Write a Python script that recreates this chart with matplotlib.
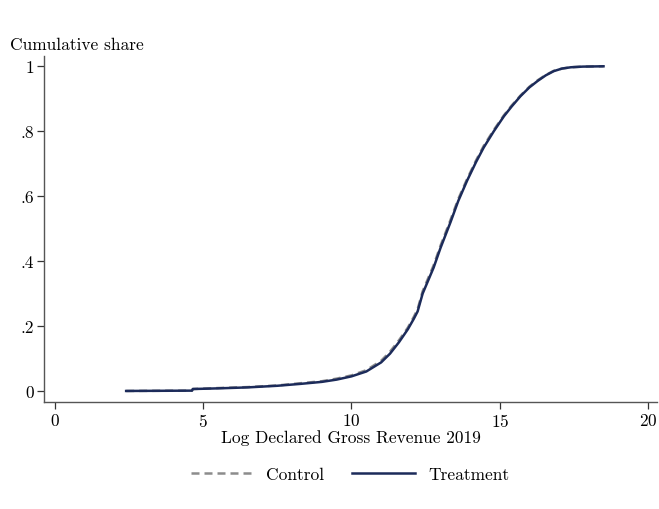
import matplotlib
matplotlib.use("Agg")
import matplotlib.pyplot as plt

plt.rcParams["font.family"] = ["cmr10", "DejaVu Serif"]
plt.rcParams["axes.formatter.use_mathtext"] = True
plt.rcParams["axes.unicode_minus"] = False

# Empirical CDF of log declared gross revenue, by group
treat_x = [2.4, 4.62, 4.65, 5.5, 6.5, 7.5, 8.3, 9.0, 9.5, 10.0, 10.5, 11.0, 11.3,
           11.6, 11.9, 12.1, 12.23, 12.4, 12.77, 13.0, 13.34, 13.6, 13.9, 14.2,
           14.46, 14.8, 15.14, 15.4, 15.7, 16.0, 16.28, 16.55, 16.82, 17.1, 17.4,
           17.8, 18.5]
treat_y = [0.0, 0.001, 0.006, 0.008, 0.011, 0.016, 0.022, 0.028, 0.035, 0.045,
           0.060, 0.088, 0.115, 0.150, 0.190, 0.222, 0.245, 0.300, 0.380, 0.440,
           0.520, 0.585, 0.648, 0.705, 0.750, 0.800, 0.846, 0.876, 0.908, 0.935,
           0.955, 0.972, 0.985, 0.993, 0.997, 0.999, 1.0]

ctrl_x = [2.4, 4.62, 4.65, 5.5, 6.5, 7.5, 8.3, 9.0, 9.5, 10.0, 10.5, 11.0, 11.3,
          11.6, 11.9, 12.1, 12.23, 12.4, 12.77, 13.0, 13.34, 13.6, 13.9, 14.2,
          14.46, 14.8, 15.14, 15.4, 15.7, 16.0, 16.28, 16.55, 16.82, 17.1, 17.4,
          17.8, 18.5]
ctrl_y = [0.0, 0.001, 0.006, 0.009, 0.012, 0.017, 0.024, 0.030, 0.038, 0.048,
          0.064, 0.093, 0.121, 0.156, 0.195, 0.228, 0.252, 0.307, 0.387, 0.447,
          0.527, 0.591, 0.653, 0.710, 0.755, 0.804, 0.849, 0.879, 0.910, 0.937,
          0.957, 0.973, 0.986, 0.993, 0.997, 0.999, 1.0]

x_ticks = [0, 5, 10, 15, 20]
y_ticks = [0, 0.2, 0.4, 0.6, 0.8, 1.0]
y_tick_labels = ["0", ".2", ".4", ".6", ".8", "1"]

FS = 12.5

fig = plt.figure(figsize=(6.59, 5.10), dpi=100)
ax = fig.add_axes([0.0668, 0.2098, 0.930, 0.678])

ax.plot(ctrl_x, ctrl_y, color="#8c8c8c", lw=1.8, ls=(0, (3.2, 2.0)), label="Control", zorder=2)
ax.plot(treat_x, treat_y, color="#1c2b5a", lw=1.8, label="Treatment", zorder=3)

ax.set_xlim(-0.37, 20.3)
ax.set_ylim(-0.034, 1.031)
ax.set_xticks(x_ticks)
ax.set_yticks(y_ticks)
ax.set_yticklabels(y_tick_labels)

for side in ("top", "right"):
    ax.spines[side].set_visible(False)
for side in ("left", "bottom"):
    ax.spines[side].set_color("#555555")
    ax.spines[side].set_linewidth(1.0)
ax.tick_params(axis="both", direction="out", length=5, width=0.9, color="#333333",
               labelsize=FS, pad=2)

ax.set_xlabel("Log Declared Gross Revenue 2019", fontsize=FS, labelpad=0)
fig.text(10 / 659, 1 - 45 / 510, "Cumulative share", fontsize=FS, ha="left", va="center")

fig.legend(loc="center", bbox_to_anchor=(0.531, 1 - 475 / 510), ncol=2, frameon=False,
           fontsize=FS, handlelength=3.6, columnspacing=1.6, handletextpad=0.75)

fig.savefig("out.png", dpi=100)
